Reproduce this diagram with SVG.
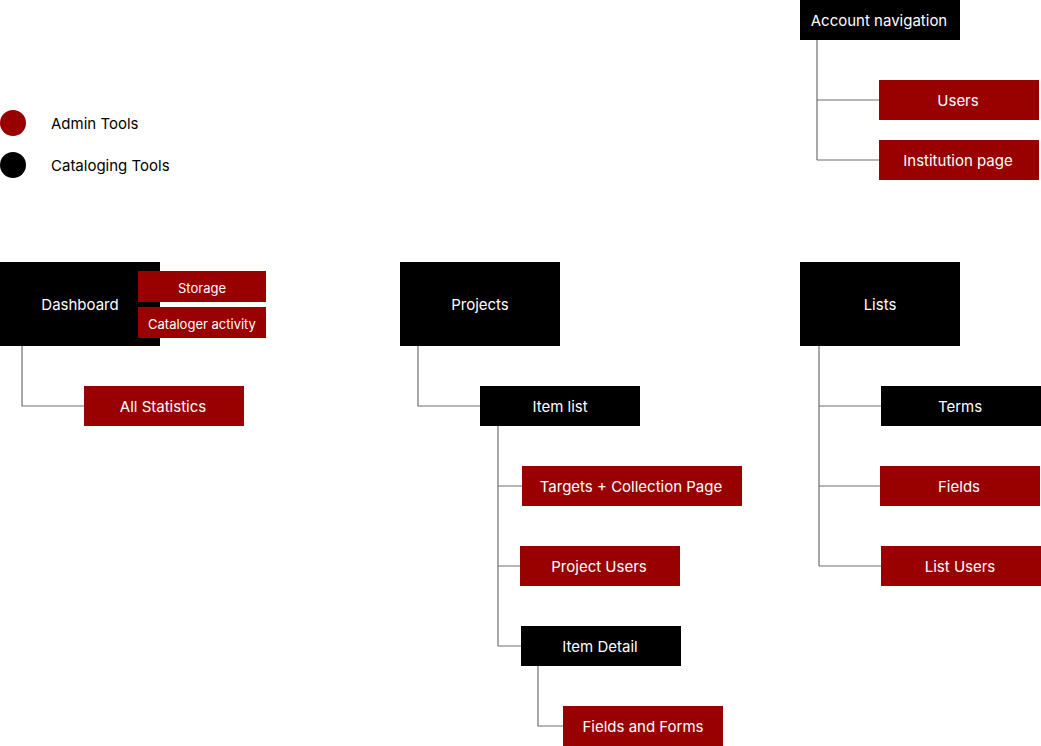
<svg xmlns="http://www.w3.org/2000/svg" width="1041" height="746" viewBox="0 0 1041 746">
<style>
  .admin { fill: #990000; }
  .cat { fill: #000000; }
  .lbl { font-family: Inter, "Liberation Sans", sans-serif; font-size: 15px; fill: #ffffff; text-anchor: middle; }
  .sm { font-size: 13px; }
  .leg { font-family: Inter, "Liberation Sans", sans-serif; font-size: 15px; fill: #000000; }
  .conn { fill: none; stroke: #6e6e6e; stroke-width: 1.2; }
</style>
<rect width="1041" height="746" fill="#ffffff"/>
<g id="connectors">
  <path class="conn" d="M817,40 V160 M817,100 H879 M817,160 H879"/>
  <path class="conn" d="M22,346 V406 H84"/>
  <path class="conn" d="M418,346 V406 H480"/>
  <path class="conn" d="M498,426 V646 M498,486 H522 M498,566 H520 M498,646 H521"/>
  <path class="conn" d="M538,666 V726 H563"/>
  <path class="conn" d="M819,346 V566 M819,406 H881 M819,486 H880 M819,566 H881"/>
</g>
<g id="legend">
  <circle class="admin" cx="13" cy="123" r="13"/>
  <text class="leg" x="51" y="129">Admin Tools</text>
  <circle class="cat" cx="13" cy="165" r="13"/>
  <text class="leg" x="51" y="171">Cataloging Tools</text>
</g>
<g id="account-navigation"><rect class="cat" x="800" y="0" width="160" height="40"/><text class="lbl" x="879" y="26">Account navigation</text></g>
<g id="users"><rect class="admin" x="879" y="80" width="160" height="40"/><text class="lbl" x="958" y="106">Users</text></g>
<g id="institution-page"><rect class="admin" x="879" y="140" width="160" height="40"/><text class="lbl" x="958" y="166">Institution page</text></g>
<g id="dashboard"><rect class="cat" x="0" y="262" width="160" height="84"/><text class="lbl" x="80" y="310">Dashboard</text></g>
<g id="storage"><rect class="admin" x="138" y="271" width="128" height="31"/><text class="lbl sm" x="202" y="293">Storage</text></g>
<g id="cataloger-activity"><rect class="admin" x="138" y="307" width="128" height="31"/><text class="lbl sm" x="202" y="329">Cataloger activity</text></g>
<g id="all-statistics"><rect class="admin" x="84" y="386" width="160" height="40"/><text class="lbl" x="163" y="412">All Statistics</text></g>
<g id="projects"><rect class="cat" x="400" y="262" width="160" height="84"/><text class="lbl" x="480" y="310">Projects</text></g>
<g id="item-list"><rect class="cat" x="480" y="386" width="160" height="40"/><text class="lbl" x="560" y="412">Item list</text></g>
<g id="targets-collection"><rect class="admin" x="522" y="466" width="220" height="40"/><text class="lbl" x="631" y="492">Targets + Collection Page</text></g>
<g id="project-users"><rect class="admin" x="520" y="546" width="160" height="40"/><text class="lbl" x="599" y="572">Project Users</text></g>
<g id="item-detail"><rect class="cat" x="521" y="626" width="160" height="40"/><text class="lbl" x="600" y="652">Item Detail</text></g>
<g id="fields-and-forms"><rect class="admin" x="563" y="706" width="160" height="40"/><text class="lbl" x="643" y="732">Fields and Forms</text></g>
<g id="lists"><rect class="cat" x="800" y="262" width="160" height="84"/><text class="lbl" x="880" y="310">Lists</text></g>
<g id="terms"><rect class="cat" x="881" y="386" width="160" height="40"/><text class="lbl" x="960" y="412">Terms</text></g>
<g id="fields"><rect class="admin" x="880" y="466" width="160" height="40"/><text class="lbl" x="959" y="492">Fields</text></g>
<g id="list-users"><rect class="admin" x="881" y="546" width="160" height="40"/><text class="lbl" x="960" y="572">List Users</text></g>
</svg>
